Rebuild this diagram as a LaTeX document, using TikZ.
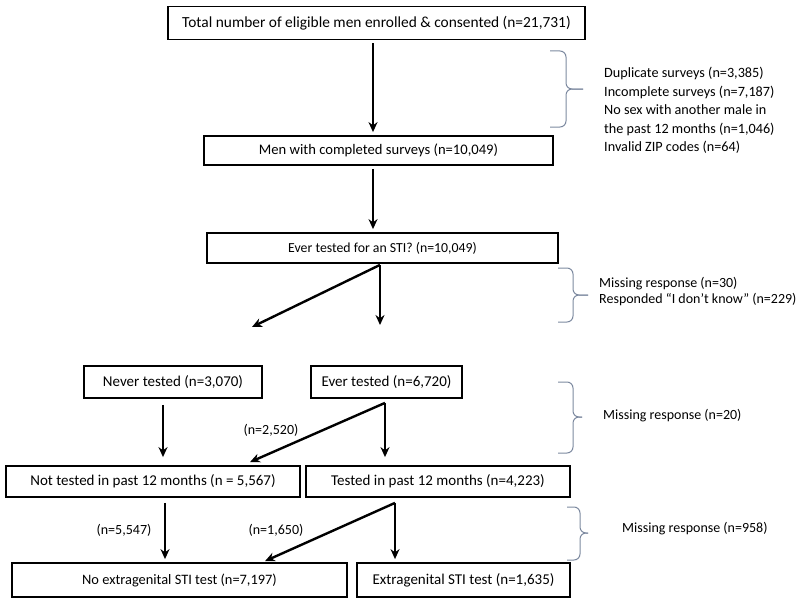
\documentclass[tikz,border=0pt]{standalone}
\usepackage{fontspec}
\setmainfont{Carlito}
\usetikzlibrary{arrows.meta}
\definecolor{bracecol}{RGB}{125,138,160}
\newcommand{\fs}[1]{\fontsize{#1}{#1}\selectfont}
\begin{document}
\begin{tikzpicture}[x=1pt,y=-1pt,
  box/.style={draw,line width=1.8pt,inner sep=0pt,font=\fs{15}},
  arr/.style={line width=2.4pt,-{Stealth[length=10pt,width=9pt]}},
  br/.style={draw=bracecol,line width=1pt,rounded corners=6pt},
  note/.style={anchor=north west,align=left,inner sep=0pt,font=\fontsize{14}{16}\selectfont},
  lab/.style={inner sep=0pt,font=\fs{14}}]
\useasboundingbox (0,0) rectangle (800,602);
% boxes
\node[box,minimum width=417pt,minimum height=33pt,font=\fs{15.4}] (top) at (376.5,23) {Total number of eligible men enrolled \& consented (n=21,731)};
\node[box,minimum width=349pt,minimum height=29pt,font=\fs{14.6}] (mcs) at (378.5,150.5) {Men with completed surveys (n=10,049)};
\node[box,minimum width=351pt,minimum height=30pt,font=\fs{13.8}] (ever) at (382.5,248) {Ever tested for an STI? (n=10,049)};
\node[box,minimum width=178pt,minimum height=32pt] (never) at (173,382) {Never tested (n=3,070)};
\node[box,minimum width=151pt,minimum height=32pt] (evert) at (386.5,382) {Ever tested (n=6,720)};
\node[box,minimum width=294pt,minimum height=31pt] (not) at (153,481.5) {Not tested in past 12 months (n = 5,567)};
\node[box,minimum width=264pt,minimum height=31pt] (tested) at (438,481.5) {Tested in past 12 months (n=4,223)};
\node[box,minimum width=335pt,minimum height=34pt,font=\fs{14.4}] (noext) at (179.5,580) {No extragenital STI test (n=7,197)};
\node[box,minimum width=213pt,minimum height=34pt] (ext) at (463.5,580) {Extragenital STI test (n=1,635)};
% free ends
\coordinate (e1) at (380,325);
\coordinate (e2) at (252,327);
% arrows
\draw[arr] ([xshift=-3.5pt,yshift=-3pt]top.south) -- ([xshift=-5.5pt,yshift=3pt]mcs.north);
\draw[arr] ([xshift=-5.5pt,yshift=-3pt]mcs.south) -- ([xshift=-9.5pt,yshift=3pt]ever.north);
\draw[arr] ([xshift=-2.5pt,yshift=-1pt]ever.south) -- (e1);
\draw[arr] ([xshift=-2.5pt,yshift=-1pt]ever.south) -- (e2);
\draw[arr] ([xshift=-10pt,yshift=-6pt]never.south) -- ([xshift=10pt,yshift=8pt]not.north);
\draw[arr] ([xshift=-1.5pt,yshift=-4pt]evert.south) -- ([xshift=-53pt,yshift=8pt]tested.north);
\draw[arr] ([xshift=-1.5pt,yshift=-4pt]evert.south) -- ([xshift=97pt,yshift=3pt]not.north);
\draw[arr] ([xshift=12pt,yshift=-5pt]not.south) -- ([xshift=-14.5pt,yshift=3pt]noext.north);
\draw[arr] ([xshift=-43pt,yshift=-5pt]tested.south) -- ([xshift=-68.5pt,yshift=3pt]ext.north);
\draw[arr] ([xshift=-43pt,yshift=-5pt]tested.south) -- ([xshift=85.5pt,yshift=1pt]noext.north);
% labels
\node[lab] (l1) at (271,430) {(n=2,520)};
\node[lab] (l2) at (124,530) {(n=5,547)};
\node[lab] (l3) at (276,530) {(n=1,650)};
% braces
\draw[br] (550,51) -- (566,51) -- (566,89) -- (583,89);
\draw[br] (583,89) -- (566,89) -- (566,127) -- (550,127);
\draw[br] (558,268) -- (573,268) -- (573,295) -- (588,295);
\draw[br] (588,295) -- (573,295) -- (573,322) -- (558,322);
\draw[br] (558,382) -- (573,382) -- (573,417) -- (582,417);
\draw[br] (582,417) -- (573,417) -- (573,453) -- (558,453);
\draw[br] (567,507) -- (580,507) -- (580,533) -- (588,533);
\draw[br] (588,533) -- (580,533) -- (580,560) -- (567,560);
% notes
\node[note,font=\fontsize{14.2}{18.5}\selectfont] (n1) at (604,67) {Duplicate surveys (n=3,385)\\Incomplete surveys (n=7,187)\\No sex with another male in\\the past 12 months (n=1,046)\\Invalid ZIP codes (n=64)};
\node[note] (n2) at (599,277) {Missing response (n=30)\\Responded “I don’t know” (n=229)};
\node[note] (n3) at (603,409) {Missing response (n=20)};
\node[note] (n4) at (622,522) {Missing response (n=958)};
\end{tikzpicture}
\end{document}
